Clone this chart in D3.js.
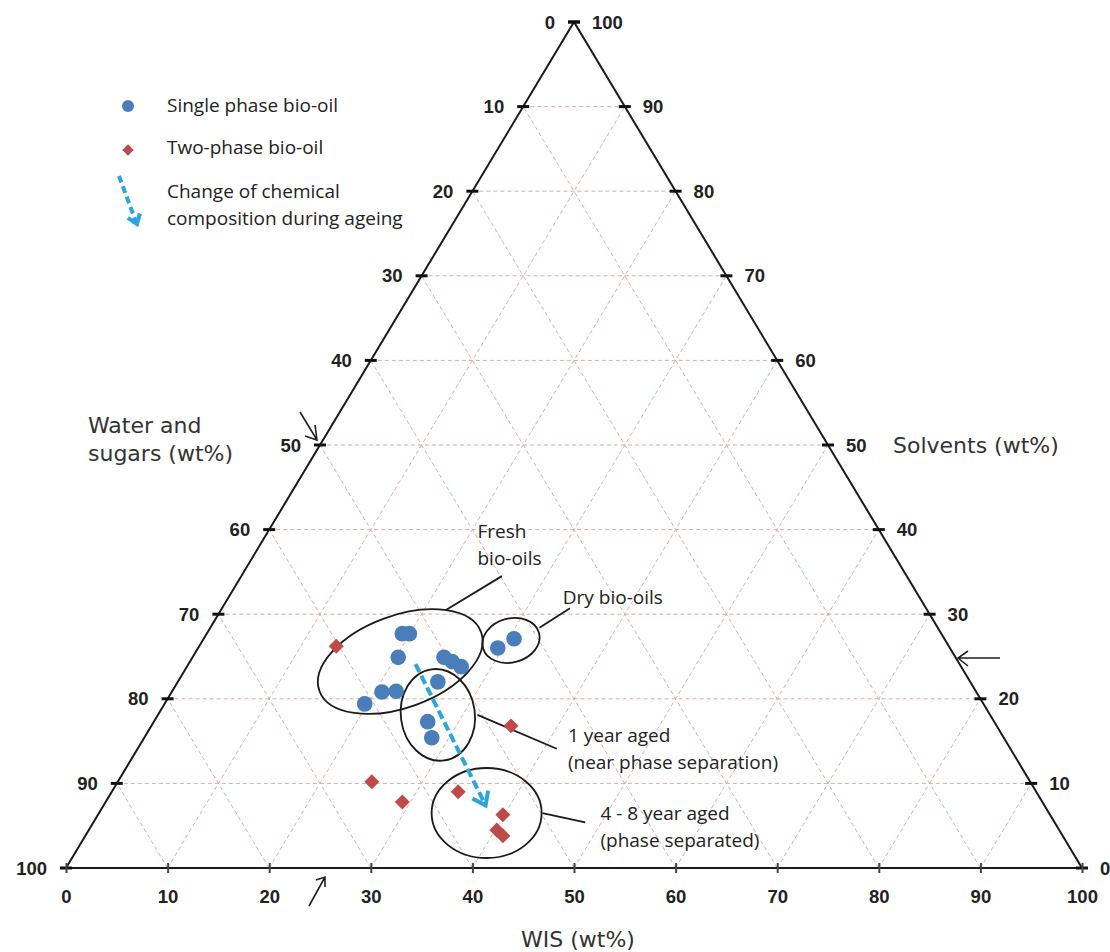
<!DOCTYPE html>
<html>
<head>
<meta charset="utf-8">
<script src="https://cdn.jsdelivr.net/npm/d3@7"></script>
<style>
  body { margin: 0; background: #fff; }
  svg { display: block; }
</style>
</head>
<body>
<svg></svg>
<script>
const width = 1110;
const height = 952;
const svg = d3.select('svg').attr('width', width).attr('height', height);

// tick values (wt%)
const levels = [0, 10, 20, 30, 40, 50, 60, 70, 80, 90, 100];
const gridLevels = [10, 20, 30, 40, 50, 60, 70, 80, 90];

// points as [reading on the WIS base, water and sugars wt%]
const singlePhase = [
  [33.1, 72.3], [33.8, 72.3], [32.7, 75.1], [37.2, 75.1], [38.0, 75.6],
  [38.9, 76.2], [36.6, 78.0], [31.1, 79.2], [32.5, 79.1], [29.4, 80.6],
  [35.6, 82.7], [36.0, 84.6], [42.5, 74.0], [44.1, 72.9]
];
const twoPhase = [
  [26.6, 73.8], [43.8, 83.2], [30.1, 89.8], [33.1, 92.2],
  [38.6, 91.0], [43.0, 93.7], [42.4, 95.5], [43.0, 96.2]
];
const ageingArrow = [[34.4, 75.9], [41.3, 92.6]];

// circled groups: centre, leader line and label lines
const groups = [
  { centre: [32.9, 75.6], rx: 86, ry: 46, rot: -20, leader: [[37.4, 69.5], [42.9, 65.5]],
    labelAt: [40.5, 61.0], lines: ['Fresh', 'bio-oils'] },
  { centre: [43.8, 73.1], rx: 29, ry: 22, rot: -15, leader: [[46.6, 71.6], [49.6, 69.3]],
    labelAt: [48.9, 68.8], lines: ['Dry bio-oils'] },
  { centre: [36.6, 81.9], rx: 37, ry: 46, rot: -8, leader: [[40.5, 81.9], [48.3, 85.9]],
    labelAt: [49.4, 85.1], lines: ['1 year aged', '(near phase separation)'] },
  { centre: [41.4, 93.5], rx: 55, ry: 45, rot: 0, leader: [[46.9, 93.5], [51.1, 94.6]],
    labelAt: [52.6, 94.3], lines: ['4 - 8 year aged', '(phase separated)'] }
];

const legendItems = ['Single phase bio-oil', 'Two-phase bio-oil'];
const legendArrowText = ['Change of chemical', 'composition during ageing'];

//Setting up scales
const xScale = d3.scaleLinear().domain([0, 100]).range([66, 1082]);
const yScale = d3.scaleLinear().domain([0, 100]).range([22, 868]);
const leftU = w => (100 - w) / 2;
const rightU = w => 50 + w / 2;
const line = d3.line().x(d => xScale(d[0])).y(d => yScale(d[1]));

const blue = '#4a7ebb';
const red = '#be4b48';
const cyan = '#2ba6dc';
const labelFont = '"Open Sans", sans-serif';

//Grid
const gridLines = [];
gridLevels.forEach(w => gridLines.push([[leftU(w), w], [rightU(w), w]]));
gridLevels.forEach(i => gridLines.push([[i, 100], [50 + i / 2, i]]));
gridLevels.forEach(i => gridLines.push([[i, 100], [i / 2, 100 - i]]));

svg.append('g').selectAll('path')
  .data(gridLines)
  .enter()
  .append('path')
    .attr('d', line)
    .attr('fill', 'none')
    .attr('stroke', '#dfa9a9')
    .attr('stroke-width', 1)
    .attr('stroke-dasharray', '4,3');

//Triangle
svg.append('path')
  .attr('d', line([[0, 100], [50, 0], [100, 100], [0, 100]]))
  .attr('fill', 'none')
  .attr('stroke', '#1a1a1a')
  .attr('stroke-width', 2);

//Side ticks and labels
const sideTicks = svg.append('g');
levels.forEach(w => {
  const yl = yScale(w);
  const xl = xScale(leftU(w));
  const xr = xScale(rightU(w));
  sideTicks.append('line').attr('x1', xl - 6).attr('x2', xl + 6).attr('y1', yl).attr('y2', yl)
    .attr('stroke', '#111').attr('stroke-width', 3);
  sideTicks.append('line').attr('x1', xr - 6).attr('x2', xr + 6).attr('y1', yl).attr('y2', yl)
    .attr('stroke', '#111').attr('stroke-width', 3);
  sideTicks.append('text').attr('x', xl - 19).attr('y', yl).attr('dy', '0.36em')
    .style('text-anchor', 'end').text(w);
  sideTicks.append('text').attr('x', xr + 18).attr('y', yl).attr('dy', '0.36em')
    .style('text-anchor', 'start').text(100 - w);
});

//Bottom axis
const xAxis = d3.axisBottom(xScale).tickValues(levels).tickSize(0).tickPadding(33);
const bottom = svg.append('g').attr('transform', `translate(0, ${yScale(100)})`).call(xAxis);
bottom.select('.domain').remove();
bottom.selectAll('.tick').append('line')
  .attr('y1', -5).attr('y2', 5)
  .attr('stroke', '#444').attr('stroke-width', 2);

svg.selectAll('text')
  .style('font-family', '"Liberation Sans", Arial, sans-serif')
  .style('font-weight', 'bold')
  .style('font-size', '18.5px')
  .attr('fill', '#222');
bottom.selectAll('.tick text').attr('dy', '0.1em');

//Axis titles
const titleFont = '"DejaVu Sans", Verdana, sans-serif';
svg.append('text').attr('x', 88).attr('y', 433).text('Water and')
  .style('font-family', titleFont).style('font-size', '22px').attr('fill', '#333');
svg.append('text').attr('x', 88).attr('y', 461).text('sugars (wt%)')
  .style('font-family', titleFont).style('font-size', '22px').attr('fill', '#333');
svg.append('text').attr('x', 893).attr('y', 453).text('Solvents (wt%)')
  .style('font-family', titleFont).style('font-size', '22px').attr('fill', '#333');
svg.append('text').attr('x', 578).attr('y', 947).style('text-anchor', 'middle').text('WIS (wt%)')
  .style('font-family', titleFont).style('font-size', '22px').attr('fill', '#333');

//Hand drawn pointers
const pointers = [
  [[300, 412], [317, 440], [315, 425], [305, 436]],
  [[1000, 658], [958, 658], [968, 651], [968, 666]],
  [[309, 906], [325, 877], [316, 880], [325, 887]]
];
pointers.forEach(p => {
  svg.append('path')
    .attr('d', `M${p[0]}L${p[1]}M${p[2]}L${p[1]}L${p[3]}`)
    .attr('fill', 'none').attr('stroke', '#222').attr('stroke-width', 1.6);
});

//Group ellipses, leaders and labels
const groupG = svg.append('g').selectAll('g')
  .data(groups)
  .enter()
  .append('g');

groupG.append('ellipse')
  .attr('transform', d => `translate(${xScale(d.centre[0])},${yScale(d.centre[1])}) rotate(${d.rot})`)
  .attr('rx', d => d.rx)
  .attr('ry', d => d.ry)
  .attr('fill', 'none')
  .attr('stroke', '#1a1a1a')
  .attr('stroke-width', 1.8);

groupG.append('path')
  .attr('d', d => line(d.leader))
  .attr('stroke', '#1a1a1a')
  .attr('stroke-width', 1.8);

groupG.each(function(d) {
  d3.select(this).selectAll('text.label')
    .data(d.lines)
    .enter()
    .append('text')
      .attr('class', 'label')
      .attr('x', xScale(d.labelAt[0]))
      .attr('y', (t, i) => yScale(d.labelAt[1]) + i * 27)
      .style('font-family', labelFont)
      .style('font-size', '19px')
      .attr('fill', '#222')
      .text(t => t);
});

//Ageing arrow
function chevron(x1, y1, x2, y2, size) {
  const a = Math.atan2(y2 - y1, x2 - x1);
  const s = Math.PI * 0.8;
  return `M${x2 + size * Math.cos(a + s)},${y2 + size * Math.sin(a + s)}L${x2},${y2}` +
         `L${x2 + size * Math.cos(a - s)},${y2 + size * Math.sin(a - s)}`;
}

svg.append('path')
  .attr('d', line(ageingArrow))
  .attr('stroke', cyan)
  .attr('stroke-width', 4)
  .attr('stroke-dasharray', '9,4');
svg.append('path')
  .attr('d', chevron(xScale(ageingArrow[0][0]), yScale(ageingArrow[0][1]),
                     xScale(ageingArrow[1][0]), yScale(ageingArrow[1][1]), 15))
  .attr('fill', 'none')
  .attr('stroke', cyan)
  .attr('stroke-width', 4);

//Points
svg.append('g').selectAll('circle')
  .data(singlePhase)
  .enter()
  .append('circle')
    .attr('cx', d => xScale(d[0]))
    .attr('cy', d => yScale(d[1]))
    .attr('r', 7.8)
    .attr('fill', blue);

svg.append('g').selectAll('path')
  .data(twoPhase)
  .enter()
  .append('path')
    .attr('transform', d => `translate(${xScale(d[0])},${yScale(d[1])}) rotate(45)`)
    .attr('d', 'M-5.3,-5.3H5.3V5.3H-5.3Z')
    .attr('fill', red);

//Legend
const legend = svg.append('g');
legend.append('circle').attr('cx', 128).attr('cy', 106).attr('r', 6).attr('fill', blue);
legend.append('path').attr('transform', 'translate(128,150) rotate(45)')
  .attr('d', 'M-4,-4H4V4H-4Z').attr('fill', red);
legend.append('path').attr('d', 'M119,176L136,222')
  .attr('stroke', cyan).attr('stroke-width', 4).attr('stroke-dasharray', '7,4');
legend.append('path').attr('d', chevron(119, 176, 137, 224, 11))
  .attr('fill', 'none').attr('stroke', cyan).attr('stroke-width', 4);

legend.selectAll('text.item')
  .data(legendItems)
  .enter()
  .append('text')
    .attr('x', 167)
    .attr('y', (d, i) => 112 + i * 42)
    .text(d => d);
legend.selectAll('text.change')
  .data(legendArrowText)
  .enter()
  .append('text')
    .attr('x', 167)
    .attr('y', (d, i) => 198 + i * 27)
    .text(d => d);
legend.selectAll('text')
  .style('font-family', labelFont)
  .style('font-size', '19px')
  .attr('fill', '#222');
</script>
</body>
</html>
